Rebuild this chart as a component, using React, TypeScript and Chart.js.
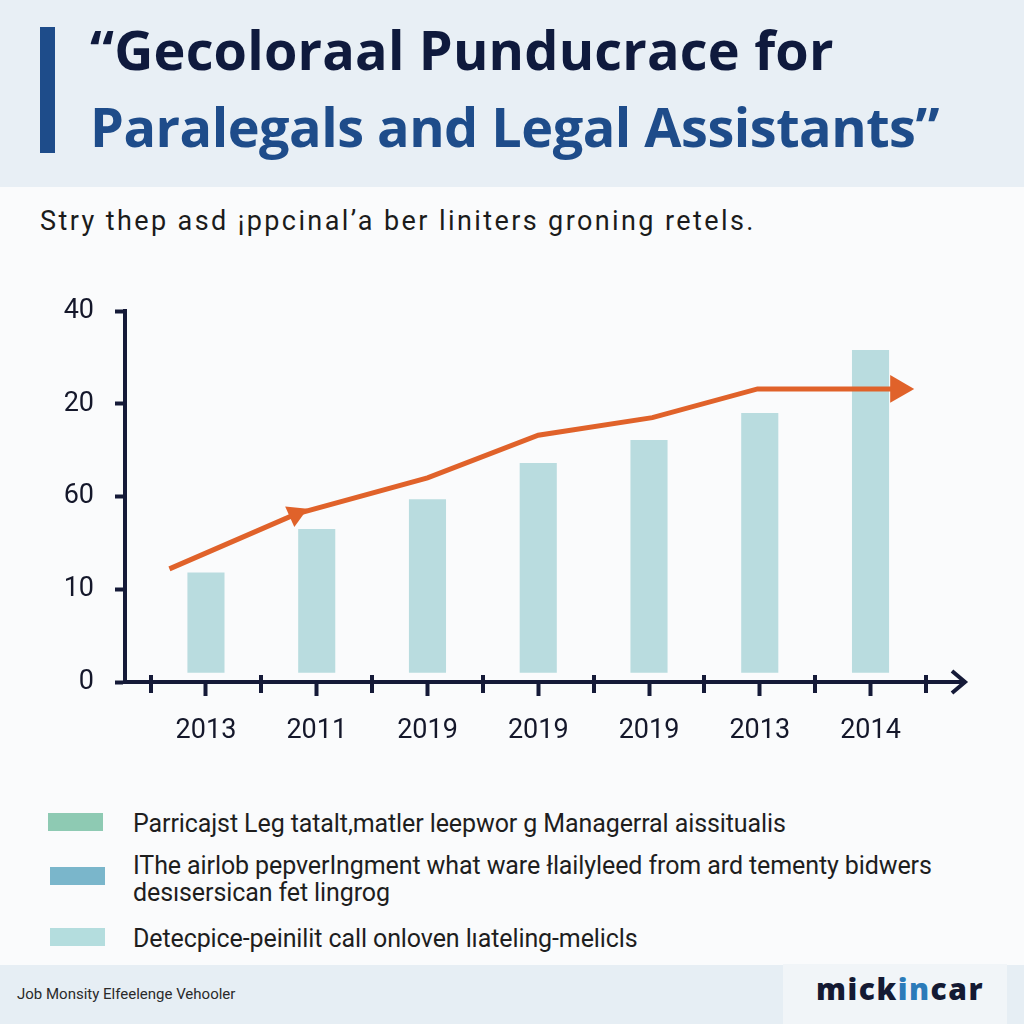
import React, { useEffect, useRef } from "react";
import { Chart, registerables } from "chart.js";

Chart.register(...registerables);

// ---------- data ----------
const TITLE_LINE_1 = "“Gecoloraal Punducrace for";
const TITLE_LINE_2 = "Paralegals and Legal Assistants”";
const SUBTITLE = "Stry thep asd ¡ppcinal’a ber liniters groning retels.";

const YEAR_LABELS = ["2013", "2011", "2019", "2019", "2019", "2013", "2014"];
const BAR_VALUES = [11.8, 16.5, 19.7, 23.6, 26.1, 29.0, 35.8];
const BAR_BASE = 1;

const TREND_X = [-0.33, 0.81, 2, 3, 4.03, 4.98, 6.25];
const TREND_Y = [12.2, 18.1, 22.0, 26.6, 28.5, 31.6, 31.6];

const Y_TICK_VALUES = [0, 10, 20, 30, 40];
const Y_TICK_LABELS = ["0", "10", "60", "20", "40"];

const LEGEND_LABELS = [
  ["Parricajst Leg tatalt,matler leepwor g Managerral aissitualis"],
  [
    "IThe airlob pepverIngment what ware łlailyleed from ard tementy bidwers",
    "desısersican fet lingrog",
  ],
  ["Detecpice-peinilit call onloven lıateling-melicls"],
];
const LEGEND_COLORS = ["#8ECAB3", "#7AB6CB", "#B4DDDE"];

const FOOTER_TEXT = "Job Monsity Elfeelenge Vehooler";
const LOGO_PARTS = ["mick", "in", "car"];

// ---------- styles ----------
const NAVY = "#151A38";
const ORANGE = "#E0622A";
const BAR_COLOR = "#B9DCDF";

const axisDecor = {
  id: "axisDecor",
  afterDraw(chart: any) {
    const { ctx, chartArea, scales } = chart;
    const x = scales.x;
    const b = chartArea.bottom;
    ctx.save();
    ctx.strokeStyle = NAVY;
    ctx.lineWidth = 4;
    // category boundary ticks
    for (let i = 0; i <= YEAR_LABELS.length; i++) {
      const px = Math.round(x.getPixelForValue(i - 0.5));
      ctx.beginPath();
      ctx.moveTo(px, b - 7);
      ctx.lineTo(px, b + 11);
      ctx.stroke();
    }
    // arrow chevron
    const r = chartArea.right;
    ctx.lineJoin = "miter";
    ctx.beginPath();
    ctx.moveTo(r - 13, b - 11);
    ctx.lineTo(r, b);
    ctx.lineTo(r - 13, b + 11);
    ctx.stroke();
    ctx.restore();
  },
};

function ChartBox() {
  const ref = useRef<HTMLCanvasElement | null>(null);
  useEffect(() => {
    if (!ref.current) return;
    const chart = new Chart(ref.current, {
      type: "bar",
      data: {
        datasets: [
          {
            type: "line",
            data: TREND_X.map((x, i) => ({ x, y: TREND_Y[i] })),
            borderColor: ORANGE,
            backgroundColor: ORANGE,
            borderWidth: 5,
            tension: 0,
            pointStyle: "triangle",
            pointRadius: [0, 13, 0, 0, 0, 0, 16],
            pointHoverRadius: [0, 13, 0, 0, 0, 0, 16],
            pointRotation: [0, 66, 0, 0, 0, 0, 90],
            pointBorderWidth: 0,
            order: 0,
          } as any,
          {
            type: "bar",
            data: BAR_VALUES.map((y, i) => ({ x: i, y })),
            backgroundColor: BAR_COLOR,
            base: BAR_BASE,
            barPercentage: 0.335,
            categoryPercentage: 1,
            order: 1,
          } as any,
        ],
      },
      options: {
        animation: false,
        responsive: false,
        maintainAspectRatio: false,
        layout: { padding: { top: 31, right: 59, bottom: 0, left: 0 } },
        plugins: { legend: { display: false }, tooltip: { enabled: false } },
        scales: {
          x: {
            type: "linear",
            bounds: "data",
            offset: false,
            min: -0.731,
            max: 6.853,
            afterBuildTicks: (s: any) => {
              s.ticks = YEAR_LABELS.map((_, i) => ({ value: i }));
            },
            afterFit: (s: any) => {
              s.height = 78;
            },
            grid: {
              offset: false,
              drawOnChartArea: false,
              drawTicks: true,
              tickLength: 14,
              tickWidth: 4,
              tickColor: NAVY,
            },
            border: { display: true, color: NAVY, width: 4 },
            ticks: {
              autoSkip: false,
              maxRotation: 0,
              padding: 19,
              color: "#14172A",
              font: { family: "Roboto", size: 27 },
              callback: (v: any) => YEAR_LABELS[v] ?? "",
            },
          },
          y: {
            type: "linear",
            min: 0,
            max: 40,
            afterBuildTicks: (s: any) => {
              s.ticks = Y_TICK_VALUES.map((v) => ({ value: v }));
            },
            afterFit: (s: any) => {
              s.width = 125;
              s.paddingTop = 0;
              s.paddingBottom = 0;
            },
            grid: {
              drawOnChartArea: false,
              drawTicks: true,
              tickLength: 10,
              tickWidth: 4,
              tickColor: NAVY,
            },
            border: { display: true, color: NAVY, width: 4 },
            ticks: {
              padding: 21,
              color: "#14172A",
              font: { family: "Roboto", size: 27 },
              callback: (v: any) => Y_TICK_LABELS[Y_TICK_VALUES.indexOf(v)] ?? "",
            },
          },
        },
      },
      plugins: [axisDecor],
    } as any);
    return () => chart.destroy();
  }, []);
  return (
    <canvas
      ref={ref}
      width={1024}
      height={480}
      style={{ position: "absolute", left: 0, top: 280, width: 1024, height: 480 }}
    />
  );
}

export default function App() {
  const legendTops = [810, 852, 925];
  const swatchTops = [813, 867, 928];
  return (
    <div
      style={{
        position: "absolute",
        left: 0,
        top: 0,
        width: 1024,
        height: 1024,
        overflow: "hidden",
        background: "#FAFBFC",
        fontFamily: "Roboto, sans-serif",
      }}
    >
      {/* header */}
      <div style={{ position: "absolute", left: 0, top: 0, width: 1024, height: 187, background: "#E8EFF5" }} />
      <div style={{ position: "absolute", left: 40, top: 27, width: 15, height: 126, background: "#1E4C8A" }} />
      <div
        style={{
          position: "absolute",
          left: 90,
          top: 22,
          fontFamily: "'Open Sans', sans-serif",
          fontWeight: 700,
          fontSize: 54,
          lineHeight: "54px",
          letterSpacing: 0.2,
          color: "#0F1A3D",
          whiteSpace: "nowrap",
        }}
      >
        {TITLE_LINE_1}
      </div>
      <div
        style={{
          position: "absolute",
          left: 90,
          top: 99,
          fontFamily: "'Open Sans', sans-serif",
          fontWeight: 700,
          fontSize: 54,
          lineHeight: "54px",
          letterSpacing: -0.5,
          color: "#1E4C8A",
          whiteSpace: "nowrap",
        }}
      >
        {TITLE_LINE_2}
      </div>
      <div
        style={{
          position: "absolute",
          left: 40,
          top: 208,
          fontSize: 27,
          lineHeight: "27px",
          letterSpacing: 2.4,
          color: "#1B1B1B",
          whiteSpace: "nowrap",
        }}
      >
        {SUBTITLE}
      </div>

      <ChartBox />

      {/* legend */}
      {LEGEND_LABELS.map((lines, i) => (
        <React.Fragment key={i}>
          <div
            style={{
              position: "absolute",
              left: i === 0 ? 48 : 50,
              top: swatchTops[i],
              width: 55,
              height: 18,
              background: LEGEND_COLORS[i],
            }}
          />
          <div
            style={{
              position: "absolute",
              left: 133,
              top: legendTops[i],
              fontSize: 25,
              lineHeight: "27px",
              letterSpacing: -0.1,
              color: "#1E1E1E",
              whiteSpace: "nowrap",
            }}
          >
            {lines.map((l, j) => (
              <div key={j}>{l}</div>
            ))}
          </div>
        </React.Fragment>
      ))}

      {/* footer */}
      <div style={{ position: "absolute", left: 0, top: 965, width: 1024, height: 59, background: "#E6EEF4" }} />
      <div style={{ position: "absolute", left: 783, top: 964, width: 224, height: 60, background: "#F1F5F8" }} />
      <div
        style={{
          position: "absolute",
          left: 17,
          top: 986,
          fontSize: 15,
          lineHeight: "16px",
          color: "#2A2A2A",
          whiteSpace: "nowrap",
        }}
      >
        {FOOTER_TEXT}
      </div>
      <div
        style={{
          position: "absolute",
          left: 816,
          top: 974,
          fontFamily: "'Open Sans', sans-serif",
          fontWeight: 800,
          fontSize: 30,
          lineHeight: "30px",
          letterSpacing: 1.5,
          color: "#141A33",
          whiteSpace: "nowrap",
        }}
      >
        {LOGO_PARTS[0]}
        <span style={{ color: "#2B7BB9" }}>{LOGO_PARTS[1]}</span>
        {LOGO_PARTS[2]}
      </div>
    </div>
  );
}
